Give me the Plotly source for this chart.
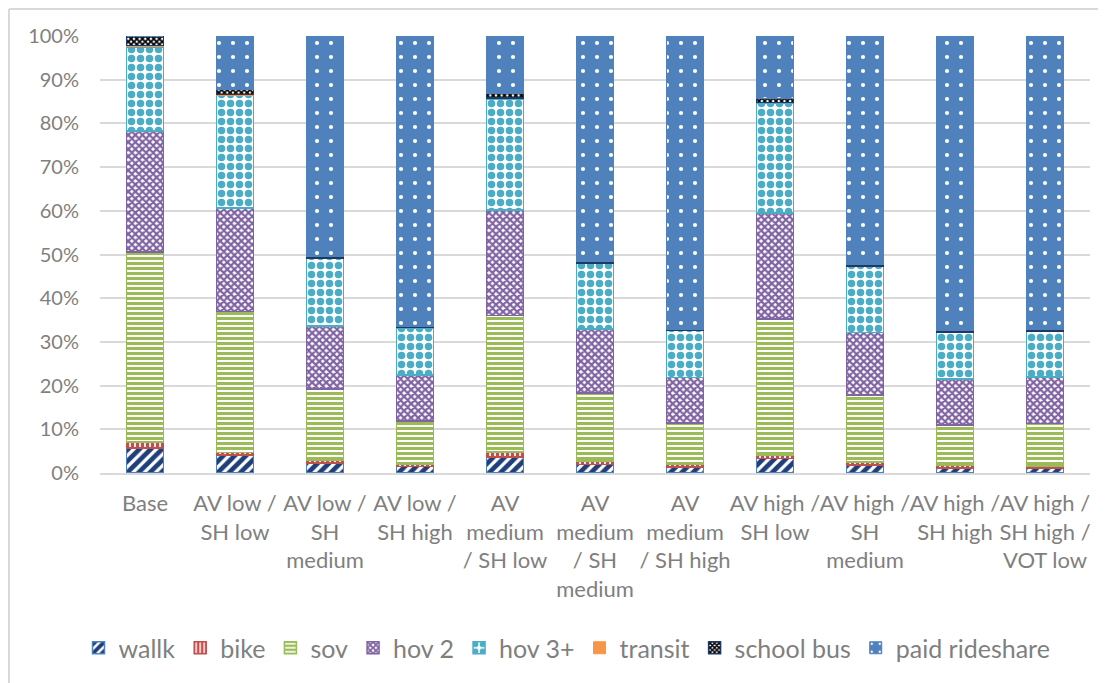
import plotly.graph_objects as go

categories = [
    "Base", "AV low /<br>SH low", "AV low /<br>SH<br>medium", "AV low /<br>SH high",
    "AV<br>medium<br>/ SH low", "AV<br>medium<br>/ SH<br>medium", "AV<br>medium<br>/ SH high",
    "AV high /<br>SH low", "AV high /<br>SH<br>medium", "AV high /<br>SH high",
    "AV high /<br>SH high /<br>VOT low",
]

walk = [5.7, 4.1, 2.3, 1.5, 3.7, 2.0, 1.4, 3.3, 1.8, 1.2, 1.1]
bike = [1.4, 0.6, 0.7, 0.5, 1.1, 0.7, 0.5, 0.7, 0.7, 0.5, 0.5]
sov = [43.5, 32.3, 16.2, 9.9, 31.2, 15.6, 9.5, 31.2, 15.3, 9.3, 9.7]
hov2 = [27.7, 23.6, 14.4, 10.5, 24.2, 14.7, 10.4, 24.3, 14.3, 10.5, 10.7]
hov3 = [19.2, 25.8, 15.5, 10.8, 25.4, 15.0, 10.8, 25.2, 15.2, 10.7, 10.5]
transit = [0.3, 0.2, 0.1, 0.05, 0.2, 0.1, 0.05, 0.1, 0.05, 0.05, 0.05]
school_bus = [2.2, 1.2, 0.4, 0.3, 1.0, 0.4, 0.25, 1.0, 0.3, 0.25, 0.25]
paid_rideshare = [0.0, 12.2, 50.4, 66.45, 13.2, 51.5, 67.1, 14.2, 52.35, 67.5, 67.2]

series = [
    ("wallk", walk, dict(color="white", line=dict(color="#4F81BD", width=1.5),
                         pattern=dict(shape="/", fgcolor="#1F3F7A", size=8, solidity=0.6, fgopacity=1))),
    ("bike", bike, dict(color="white", line=dict(color="#C0504D", width=1.5),
                        pattern=dict(shape="|", fgcolor="#C0504D", size=5, solidity=0.65, fgopacity=1))),
    ("sov", sov, dict(color="white", line=dict(color="#9BBB59", width=1.5),
                      pattern=dict(shape="-", fgcolor="#9BBB59", size=5, solidity=0.6, fgopacity=1))),
    ("hov 2", hov2, dict(color="white", line=dict(color="#8064A2", width=1.5),
                         pattern=dict(shape="x", fgcolor="#8064A2", size=5, solidity=0.7, fgopacity=1))),
    ("hov 3+", hov3, dict(color="white", line=dict(color="#4BACC6", width=1.5),
                          pattern=dict(shape=".", fgcolor="#4BACC6", size=9, solidity=0.55, fgopacity=1))),
    ("transit", transit, dict(color="#F79646", line=dict(color="#F79646", width=1))),
    ("school bus", school_bus, dict(color="white", line=dict(color="#1F3864", width=1.5),
                                    pattern=dict(shape="x", fgcolor="black", size=4, solidity=0.7, fgopacity=1))),
    ("paid rideshare", paid_rideshare, dict(color="#4F81BD", line=dict(color="#4F81BD", width=1),
                                            pattern=dict(shape=".", fgcolor="white", size=14, solidity=0.07, fgopacity=1))),
]

fig = go.Figure()
for name, vals, marker in series:
    fig.add_trace(go.Bar(name=name, x=categories, y=vals, marker=marker))

font_family = "Lato, 'Open Sans', sans-serif"
gray = "#7F7F7F"

# page body adds an 8px offset; plot area targeted at x 100..1090, y 36..473
W, H = 1098, 675
L, R, T, B = 92, 16, 28, 210
pw, ph = W - L - R, H - T - B
bx = (1 - L) / pw          # border x in paper coords (figure x = 1)
by = 1 + (T - 1) / ph      # border y in paper coords (figure y = 1)

fig.update_layout(
    barmode="stack",
    bargap=0.59,
    width=W, height=H,
    margin=dict(l=L, r=R, t=T, b=B),
    plot_bgcolor="white", paper_bgcolor="white",
    font=dict(family=font_family, color=gray),
    showlegend=True,
    legend=dict(orientation="h", x=(567 - 100) / pw, xanchor="center",
                y=(473 - 648) / ph, yanchor="middle",
                font=dict(size=25, color=gray), traceorder="normal", itemwidth=30),
    xaxis=dict(tickfont=dict(size=22, color=gray), tickangle=0, showline=True, linecolor="#D9D9D9",
               linewidth=1.5, ticks="", showgrid=False, ticklabelstandoff=10),
    yaxis=dict(range=[0, 100], dtick=10, ticksuffix="%", tickfont=dict(size=20, color=gray),
               gridcolor="#D9D9D9", gridwidth=1.5, zeroline=False, ticks="", ticklen=0,
               ticklabelstandoff=20),
    shapes=[
        dict(type="line", xref="paper", yref="paper",
             x0=bx, x1=bx, y0=(H - L) / -ph * 0 + (-(B + 10) / ph), y1=by,
             line=dict(color="#D9D9D9", width=2)),
        dict(type="line", xref="paper", yref="paper",
             x0=bx, x1=1 + (R + 10) / pw, y0=by, y1=by,
             line=dict(color="#D9D9D9", width=2)),
    ],
)

fig.write_html("out.html")
